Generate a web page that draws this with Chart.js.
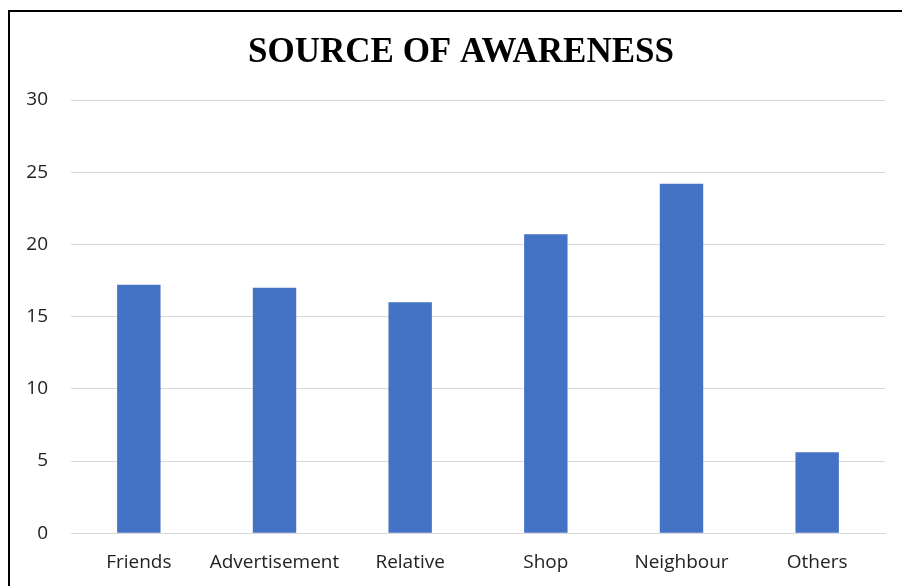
<!DOCTYPE html>
<html>
<head>
<meta charset="utf-8">
<script src="https://cdn.jsdelivr.net/npm/chart.js@4"></script>
<style>
  html, body { margin: 0; padding: 0; background: #fff; overflow: hidden; }
  #frame { position: absolute; left: 8px; top: 10px; width: 1000px; height: 700px; border: 2px solid #000; }
  #wrap { position: absolute; left: 0; top: 0; width: 902px; height: 586px; }
</style>
</head>
<body>
<div id="frame"></div>
<div id="wrap"><canvas id="chart"></canvas></div>
<script>
// Datos del gráfico
const categories = ['Friends', 'Advertisement', 'Relative', 'Shop', 'Neighbour', 'Others'];
const awareness = [17.2, 17.0, 16.0, 20.7, 24.2, 5.6];
const yTicks = [0, 5, 10, 15, 20, 25, 30];
const titleText = 'SOURCE OF AWARENESS';

const textColor = '#222222';
const gridColor = '#d9d9d9';

/* Título centrado sobre el marco (no sobre el área del gráfico) */
const frameTitle = {
  id: 'frameTitle',
  afterDraw(chart) {
    const { ctx } = chart;
    ctx.save();
    ctx.font = 'bold 35px "Liberation Serif"';
    ctx.fillStyle = '#000';
    ctx.textAlign = 'center';
    ctx.textBaseline = 'middle';
    ctx.fillText(titleText, 461, 53);
    ctx.restore();
  },
};

new Chart(document.getElementById('chart'), {
  type: 'bar',
  data: {
    labels: categories,
    datasets: [{
      label: 'Source of awareness',
      data: awareness,
      backgroundColor: '#4472C4',
      barPercentage: 0.32,
      categoryPercentage: 1,
    }],
  },
  plugins: [frameTitle],
  options: {
    responsive: true, maintainAspectRatio: false, animation: false,
    layout: { padding: { left: 0, right: 17, top: 100, bottom: 2 } },
    plugins: {
      legend: { display: false },
      tooltip: { enabled: false },
      title: { display: false },
    },
    scales: {
      x: {
        grid: { display: false },
        border: { color: gridColor, width: 1 },
        ticks: { color: textColor, font: { family: 'Open Sans', size: 19 }, padding: 10, maxRotation: 0 },
      },
      y: {
        min: 0, max: 30,
        afterFit: (s) => { s.width = 71; },
        afterBuildTicks: (s) => { s.ticks = yTicks.map((v) => ({ value: v })); },
        grid: { color: gridColor, lineWidth: 1, drawTicks: false },
        border: { display: false },
        ticks: { color: textColor, font: { family: 'Open Sans', size: 19 }, padding: 23 },
      },
    },
  },
});
</script>
</body>
</html>
